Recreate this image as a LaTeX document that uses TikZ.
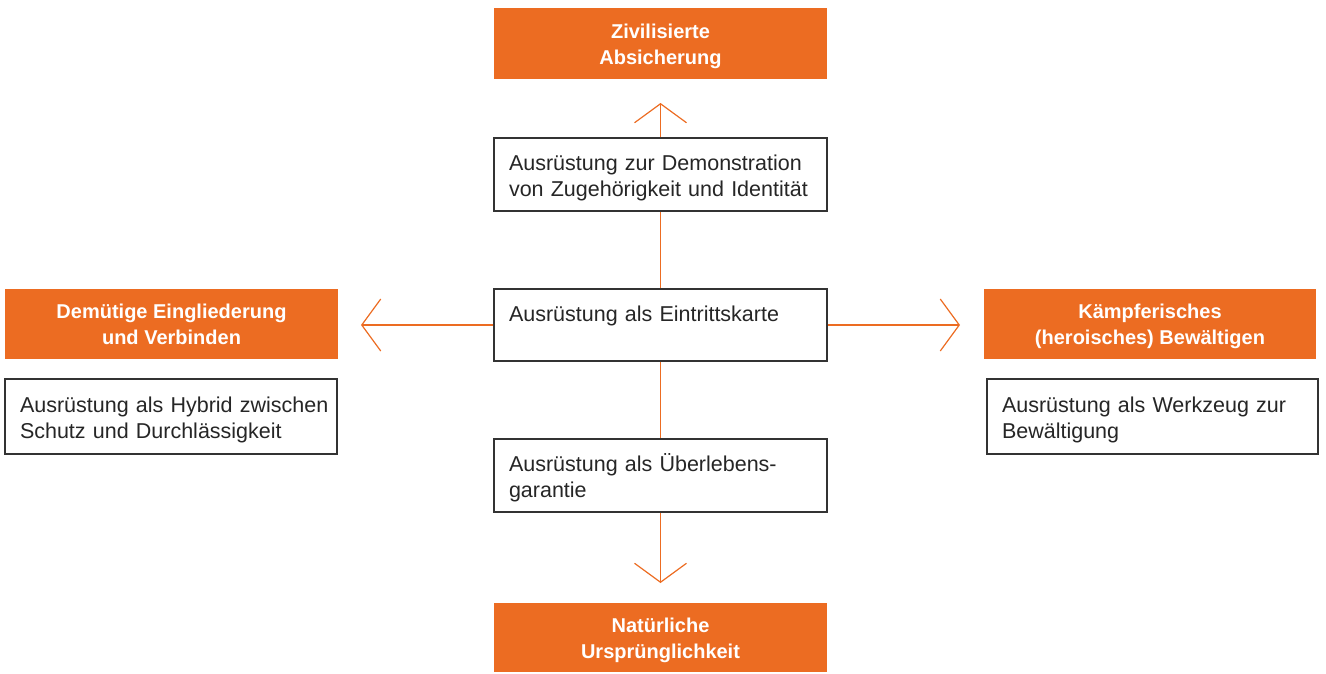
\documentclass[tikz,border=0pt]{standalone}
\usepackage{fontspec}
\setmainfont{Liberation Sans}
\usepackage{xcolor}
\usetikzlibrary{arrows.meta}
\definecolor{orangefill}{RGB}{236,108,34}
\definecolor{boxline}{RGB}{51,51,51}
\tikzset{
  orangebox/.style={fill=orangefill,draw=none,text=white,font=\bfseries\fontsize{20}{26}\selectfont,
    align=center,minimum width=333pt,inner sep=0pt,text height=46pt,text depth=5pt},
  whitebox/.style={fill=white,draw=boxline,line width=1.4pt,text=black!85,font=\fontsize{21.5}{26}\selectfont,
    align=left,text width=303pt,inner xsep=15pt,inner ysep=0pt,text height=23pt,text depth=31pt},
  link/.style={draw=orangefill,line width=1.2pt},
  tip/.style={-{Straight Barb[length=19pt,width=52pt,line width=1.2pt]}}
}
\begin{document}
\begin{tikzpicture}[x=1pt,y=-1pt]
\useasboundingbox (0,0) rectangle (1326,673);
% Mitte
\node[whitebox,minimum height=72pt] (entry) at (660.5,325) {Ausrüstung als Eintrittskarte\\\mbox{}};
\node[whitebox,minimum height=73pt] (demo) at (660.5,174.5) {Ausrüstung zur Demonstration\\von Zugehörigkeit und Identität};
\node[whitebox,minimum height=73pt] (surv) at (660.5,475.5) {Ausrüstung als Überlebens-\\garantie};
% Pole
\node[orangebox,minimum height=71pt] (civil) at (660.5,43.5) {Zivilisierte\\Absicherung};
\node[orangebox,minimum height=69pt] (nature) at (660.5,637.5) {Natürliche\\Ursprünglichkeit};
\node[orangebox,minimum height=70pt] (humble) at (171.5,324) {Demütige Eingliederung\\und Verbinden};
\node[orangebox,minimum height=70pt,minimum width=332pt] (fight) at (1150,324) {Kämpferisches\\(heroisches) Bewältigen};
\node[whitebox,minimum height=75pt,text width=302pt] (hybrid) at (171,416.5) {\mbox{Ausrüstung als Hybrid zwischen}\\Schutz und Durchlässigkeit};
\node[whitebox,minimum height=75pt,text width=301pt] (tool) at (1152.5,416.5) {Ausrüstung als Werkzeug zur\\Bewältigung};
% Pfeile
\coordinate (uptip) at (660.5,103);
\coordinate (downtip) at (660.5,583);
\coordinate (lefttip) at (361,325);
\coordinate (righttip) at (960,325);
\draw[link] (entry.north) -- (demo.south);
\draw[link,tip] (demo.north) -- (uptip);
\draw[link] (entry.south) -- (surv.north);
\draw[link,tip] (surv.south) -- (downtip);
\draw[link,tip] (entry.west) -- (lefttip);
\draw[link,tip] (entry.east) -- (righttip);
\end{tikzpicture}
\end{document}
